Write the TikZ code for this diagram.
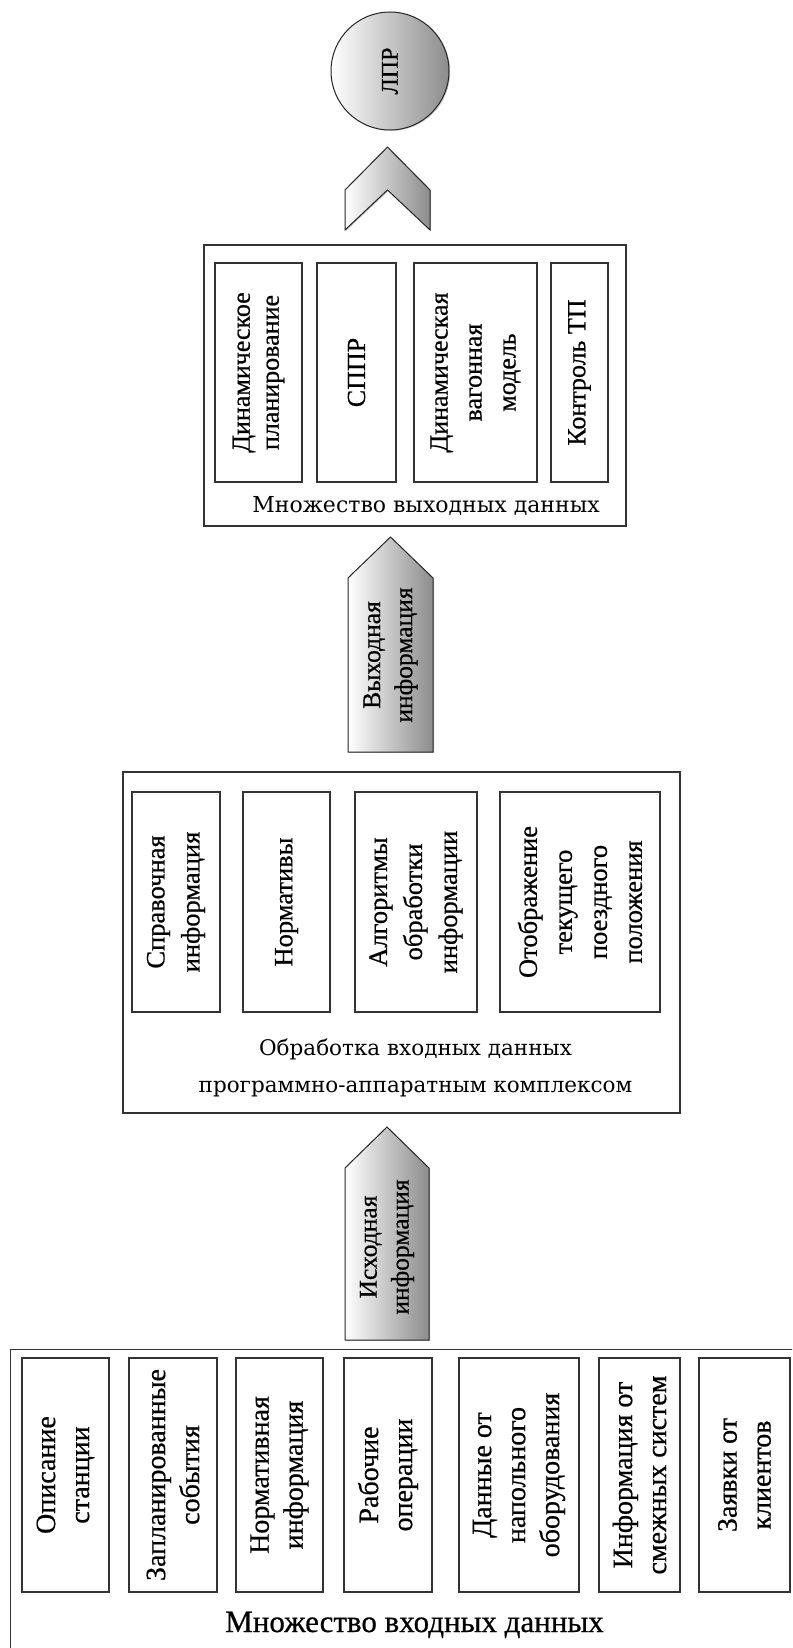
\documentclass[tikz,border=0pt]{standalone}
\usepackage{fontspec}
\setmainfont{Liberation Serif}[FakeBold=0.6]
\newfontfamily\capfont{DejaVu Serif}
\usetikzlibrary{shadows}

\tikzset{
    frame/.style={draw=black!80, line width=1.1pt, inner sep=0pt},
    cell/.style={draw=black!80, line width=1.1pt, rotate=90, align=center, inner sep=0pt},
    flow/.style={draw=black!85, line width=1pt, left color=white, right color=black!45,
        drop shadow={shadow xshift=1.2pt, shadow yshift=-0.8pt, opacity=.45}},
    flowtext/.style={rotate=90, align=center, font=\fontsize{25.5}{32}\selectfont}
}

\begin{document}
\begin{tikzpicture}[x=1pt, y=1pt]
\useasboundingbox (0,0) rectangle (792,-1648);
\clip (0,0) rectangle (792,-1648);

% decision maker
\node [flow, circle, minimum size=118pt, inner sep=0pt] (lpr) at (390,-71) {};
\node [rotate=90, font=\fontsize{24}{28}\selectfont] (lprtext) at (lpr.center) {ЛПР};
\path [flow] (345,-230) -- (345,-190) -- (387.5,-147) -- (430,-190) -- (430,-230) -- (387.5,-190) -- cycle;

% output data
\node [frame, minimum width=422pt, minimum height=281pt] (outset) at (415,-385.5) {};
\node [cell, minimum width=219pt, minimum height=87pt, font=\fontsize{26}{29}\selectfont] (dynplan) at (258.5,-372.5) {Динамическое\\планирование};
\node [cell, minimum width=219pt, minimum height=79pt, font=\fontsize{26}{33}\selectfont] (sppr) at (356.5,-372.5) {СППР};
\node [cell, minimum width=219pt, minimum height=123pt, font=\fontsize{26}{34}\selectfont] (wagon) at (475.5,-372.5) {Динамическая\\вагонная\\модель};
\node [cell, minimum width=219pt, minimum height=57pt, font=\fontsize{26}{33}\selectfont] (tpctl) at (579.5,-372.5) {Контроль ТП};
\node [anchor=base, font=\capfont\fontsize{22}{26}\selectfont] (outcap) at (426,-512) {Множество выходных данных};

\path [flow] (348,-752) -- (348,-578) -- (390.5,-537) -- (433,-578) -- (433,-752) -- cycle;
\node [flowtext] (outinfo) at (390.5,-655) {Выходная\\информация};

% processing
\node [frame, minimum width=557pt, minimum height=341pt] (procset) at (401.5,-942.5) {};
\node [cell, minimum width=220pt, minimum height=88pt, font=\fontsize{26.5}{35}\selectfont] (refinfo) at (176,-902) {Справочная\\информация};
\node [cell, minimum width=220pt, minimum height=87pt, font=\fontsize{26.5}{35}\selectfont] (norms) at (286.5,-902) {Нормативы};
\node [cell, minimum width=220pt, minimum height=122pt, font=\fontsize{26.5}{35}\selectfont] (algo) at (416,-902) {Алгоритмы\\обработки\\информации};
\node [cell, minimum width=220pt, minimum height=160pt, font=\fontsize{26.5}{35}\selectfont] (trainpos) at (580,-902) {Отображение\\текущего\\поездного\\положения};
\node [anchor=base, font=\capfont\fontsize{21.5}{26}\selectfont] (proccap) at (415.5,-1055) {Обработка входных данных};
\node [anchor=base, font=\capfont\fontsize{21.5}{26}\selectfont] (proccapb) at (415.5,-1092) {программно-аппаратным комплексом};

\path [flow] (345,-1340) -- (345,-1168) -- (387,-1127) -- (429,-1168) -- (429,-1340) -- cycle;
\node [flowtext] (ininfo) at (387,-1247) {Исходная\\информация};

% input data
\node [frame, minimum width=800pt, minimum height=320pt, anchor=north west] (inset) at (9.5,-1349) {};
\node [cell, minimum width=234pt, minimum height=87pt, font=\fontsize{28}{34}\selectfont] (station) at (65.5,-1475) {Описание\\станции};
\node [cell, minimum width=234pt, minimum height=88pt, font=\fontsize{28}{34}\selectfont] (planned) at (173,-1475) {Запланированные\\события};
\node [cell, minimum width=234pt, minimum height=87pt, font=\fontsize{28}{34}\selectfont] (norminfo) at (279.5,-1475) {Нормативная\\информация};
\node [cell, minimum width=234pt, minimum height=88pt, font=\fontsize{28}{34}\selectfont] (workops) at (388,-1475) {Рабочие\\операции};
\node [cell, minimum width=234pt, minimum height=120pt, font=\fontsize{28}{34}\selectfont] (trackside) at (519,-1475) {Данные от\\напольного\\оборудования};
\node [cell, minimum width=234pt, minimum height=81pt, font=\fontsize{28}{34}\selectfont] (adjacent) at (639.5,-1475) {Информация от\\смежных систем};
\node [cell, minimum width=234pt, minimum height=91pt, font=\fontsize{28}{34}\selectfont] (orders) at (744.5,-1475) {Заявки от\\клиентов};
\node [anchor=base, font=\fontsize{31}{36}\selectfont] (incap) at (414.5,-1632) {Множество входных данных};

\end{tikzpicture}
\end{document}
